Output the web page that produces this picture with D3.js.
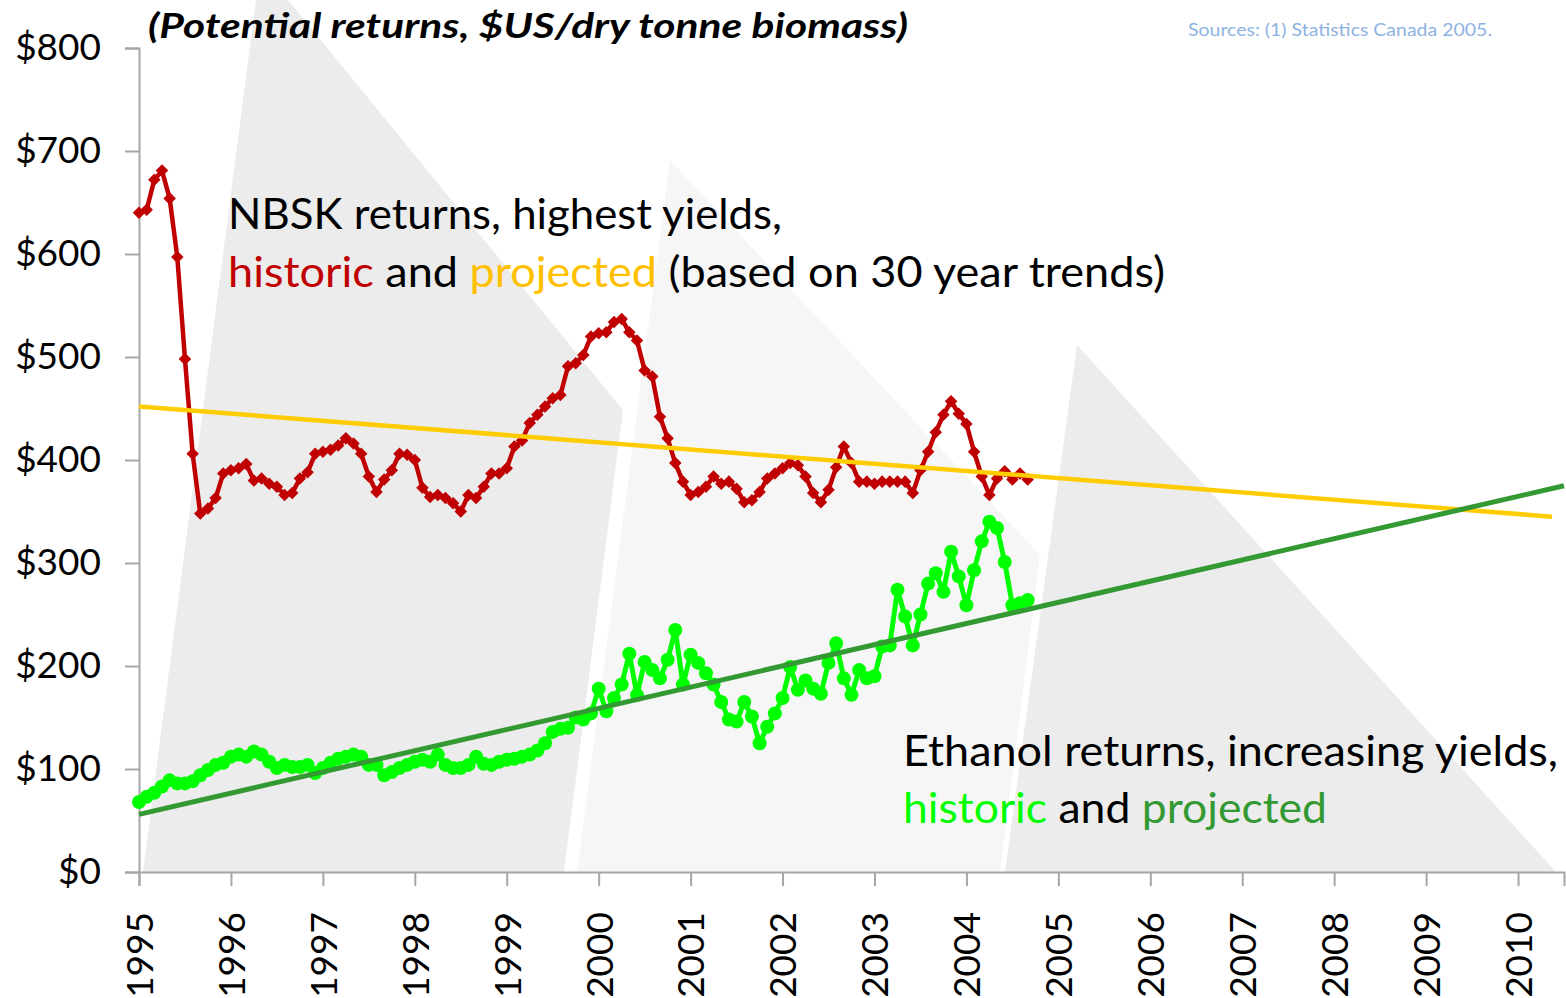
<!DOCTYPE html>
<html>
<head>
<meta charset="utf-8">
<script src="https://cdn.jsdelivr.net/npm/d3@7"></script>
<style>
  html, body { margin: 0; padding: 0; background: #fff; }
  text { font-family: Lato, "Open Sans", sans-serif; }
</style>
</head>
<body>
<div id="chart"></div>
<script>
// monthly data, Jan 1995 - Sep 2004
var startYear = 1995;

var nbskReturns = [
  640,643,672,681,654,597,498,406,348,353,
  363,387,390,392,396,380,382,377,374,366,
  368,382,388,406,408,410,414,421,416,406,
  384,369,381,390,406,405,400,373,364,366,
  363,358,350,366,363,374,387,387,392,413,
  419,436,444,452,460,463,491,494,502,520,
  523,524,534,537,524,516,487,481,442,421,
  397,379,366,369,374,384,377,379,372,359,
  361,369,382,387,392,397,395,384,368,359,
  371,393,413,397,379,379,377,379,379,379,
  379,368,390,408,427,444,457,445,435,408,
  384,366,382,389,381,387,381
];

var ethanolReturns = [
  68,73,77,83,89,86,86,88,94,99,
  104,106,112,114,112,117,114,107,101,104,
  102,102,104,96,101,106,110,112,114,112,
  104,104,94,97,101,104,107,109,107,114,
  104,101,101,104,112,105,104,107,109,110,
  112,114,118,125,136,139,140,150,148,154,
  178,156,169,182,212,172,204,196,188,206,
  235,182,211,203,193,182,165,148,146,165,
  151,125,141,154,169,199,177,186,178,173,
  203,222,188,172,196,188,190,219,220,274,
  248,220,250,280,290,272,311,287,259,293,
  321,340,334,301,259,261,264
];

// projected trend lines: [year, value]
var nbskTrend = [[1995, 452], [2010.37, 345]];
var ethanolTrend = [[1995, 56], [2010.5, 375]];

var yearTicks = d3.range(1995, 2011);
var valueTicks = [0, 100, 200, 300, 400, 500, 600, 700, 800];

function init() {
  var w = 1566, h = 998;
  var plotLeft = 139, plotRight = 1564, plotTop = 48, plotBottom = 872;

  var svg = d3.select("#chart")
    .append("svg")
    .attr("width", w)
    .attr("height", h);

  var x = d3.scaleLinear().domain([1995, 2010.5]).range([plotLeft, plotRight]);
  var y = d3.scaleLinear().domain([0, 800]).range([plotBottom, plotTop]);

  // background decoration (grey "peaks")
  var shapes = [
    { fill: "#ececec", pts: [[143,872],[256,0],[288,0],[623,410],[564,872]] },
    { fill: "#f6f6f6", pts: [[577,872],[670,160],[1040,555],[1000,872]] },
    { fill: "#ececec", pts: [[1005,872],[1077,345],[1556,872]] }
  ];
  svg.selectAll("polygon.bg")
    .data(shapes)
    .enter()
    .append("polygon")
    .attr("class", "bg")
    .attr("points", function(d) { return d.pts.map(function(p) { return p.join(","); }).join(" "); })
    .attr("fill", function(d) { return d.fill; });

  // axes
  var yAxis = d3.axisLeft(y)
    .tickValues(valueTicks)
    .tickSize(14)
    .tickPadding(24)
    .tickFormat(function(d) { return "$" + d; });

  var gy = svg.append("g")
    .attr("transform", "translate(" + plotLeft + ",0)")
    .call(yAxis);
  gy.select(".domain").attr("stroke", "#a6a6a6").attr("stroke-width", 2);
  gy.selectAll(".tick line").attr("stroke", "#a6a6a6").attr("stroke-width", 2);
  gy.selectAll(".tick text")
    .attr("font-size", 37)
    .attr("fill", "#000")
    .style("font-family", "Lato, sans-serif");

  var xAxis = d3.axisBottom(x)
    .tickValues(yearTicks)
    .tickSize(14)
    .tickFormat(d3.format("d"));

  var gx = svg.append("g")
    .attr("transform", "translate(0," + plotBottom + ")")
    .call(xAxis);
  gx.select(".domain").attr("stroke", "#a6a6a6").attr("stroke-width", 2);
  gx.selectAll(".tick line").attr("stroke", "#a6a6a6").attr("stroke-width", 2);
  gx.selectAll(".tick text")
    .attr("font-size", 37)
    .attr("fill", "#000")
    .attr("text-anchor", "end")
    .attr("transform", "translate(0,40) rotate(-90)")
    .attr("x", 0)
    .attr("y", 0)
    .attr("dy", "0.36em")
    .style("font-family", "Lato, sans-serif");

  // series lines
  var line = d3.line()
    .x(function(d, i) { return x(startYear + i / 12); })
    .y(function(d) { return y(d); });

  svg.append("path")
    .datum(nbskReturns)
    .attr("d", line)
    .attr("fill", "none")
    .attr("stroke", "#c00000")
    .attr("stroke-width", 4.5)
    .attr("stroke-linejoin", "round");

  svg.selectAll("path.diamond")
    .data(nbskReturns)
    .enter()
    .append("path")
    .attr("class", "diamond")
    .attr("d", d3.symbol().type(d3.symbolDiamond2).size(100))
    .attr("transform", function(d, i) {
      return "translate(" + x(startYear + i / 12) + "," + y(d) + ")";
    })
    .attr("fill", "#c00000");

  svg.append("path")
    .datum(ethanolReturns)
    .attr("d", line)
    .attr("fill", "none")
    .attr("stroke", "#00ff00")
    .attr("stroke-width", 5)
    .attr("stroke-linejoin", "round");

  svg.selectAll("circle.eth")
    .data(ethanolReturns)
    .enter()
    .append("circle")
    .attr("class", "eth")
    .attr("cx", function(d, i) { return x(startYear + i / 12); })
    .attr("cy", function(d) { return y(d); })
    .attr("r", 7)
    .attr("fill", "#00ff00");

  // trend lines
  var trendLine = d3.line()
    .x(function(d) { return x(d[0]); })
    .y(function(d) { return y(d[1]); });

  svg.append("path")
    .datum(nbskTrend)
    .attr("d", trendLine)
    .attr("stroke", "#ffcc00")
    .attr("stroke-width", 4.5)
    .attr("fill", "none");

  svg.append("path")
    .datum(ethanolTrend)
    .attr("d", trendLine)
    .attr("stroke", "#339933")
    .attr("stroke-width", 5)
    .attr("fill", "none");

  // titles and annotations
  svg.append("text")
    .attr("x", 148)
    .attr("y", 38)
    .attr("font-size", 34)
    .attr("font-weight", "bold")
    .attr("font-style", "italic")
    .attr("textLength", 760)
    .attr("lengthAdjust", "spacingAndGlyphs")
    .text("(Potential returns, $US/dry tonne biomass)");

  svg.append("text")
    .attr("x", 1188)
    .attr("y", 36)
    .attr("font-size", 18)
    .attr("fill", "#8db3e2")
    .attr("textLength", 304)
    .attr("lengthAdjust", "spacingAndGlyphs")
    .text("Sources: (1) Statistics Canada 2005.");

  function multiText(xPos, yPos, len, parts) {
    var t = svg.append("text")
      .attr("x", xPos)
      .attr("y", yPos)
      .attr("font-size", 42)
      .attr("textLength", len)
      .attr("lengthAdjust", "spacingAndGlyphs");
    parts.forEach(function(p) {
      t.append("tspan").attr("fill", p[1]).text(p[0]);
    });
  }

  multiText(228, 229, 554, [["NBSK returns, highest yields,", "#000"]]);
  multiText(228, 287, 937, [
    ["historic", "#c00000"], [" and ", "#000"], ["projected", "#ffc000"],
    [" (based on 30 year trends)", "#000"]
  ]);
  multiText(903, 766, 655, [["Ethanol returns, increasing yields,", "#000"]]);
  multiText(903, 823, 424, [
    ["historic", "#00ff00"], [" and ", "#000"], ["projected", "#339933"]
  ]);
}

window.onload = init;
</script>
</body>
</html>
